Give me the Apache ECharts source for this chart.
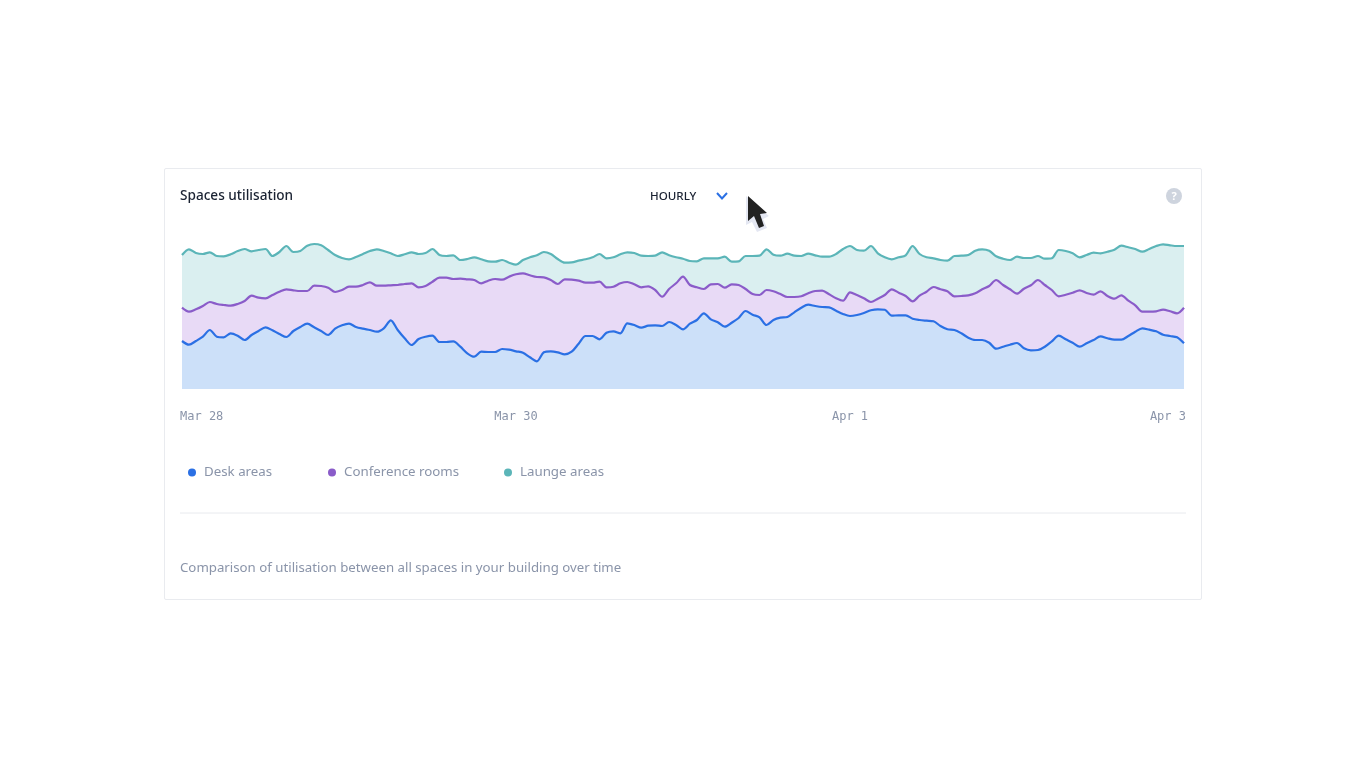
<!DOCTYPE html>
<html>
<head>
<meta charset="utf-8">
<title>Spaces utilisation</title>
<script src="https://cdn.jsdelivr.net/npm/echarts@6/dist/echarts.min.js"></script>
<style>
  html, body { margin: 0; padding: 0; background: #fff; overflow: hidden; }
  #card { position: absolute; left: 164px; top: 168px; width: 1036px; height: 430px; border: 1px solid #e9ebef; border-radius: 2px; }
  #chart { position: absolute; left: 0; top: 0; width: 1366px; height: 768px; }
</style>
</head>
<body>
<div id="card"></div>
<div id="chart"></div>
<script>
// hourly readings, Mar 28 00:00 to Apr 3 00:00 (145 points)
const deskAreas = [
  48, 44.3, 48, 52.3, 59, 52.3, 51.7, 55.7, 53.3, 49, 54, 58, 61.7, 58.7, 55, 52, 58, 62, 65.3, 61.7, 58, 54, 60.3, 63.7,
  65.3, 62, 60.3, 59, 57.3, 60.7, 68.7, 59, 50.7, 44, 50, 52.3, 53.3, 47, 47, 47.7, 42.3, 35.7, 32.3, 37.3, 37, 37, 40, 39.3,
  37.7, 36.3, 31.7, 27.7, 36.7, 37.7, 36.7, 34.7, 37.3, 45.3, 53, 53, 49.7, 56.3, 57.7, 55.7, 65.7, 64, 61.3, 63.3, 63.7, 63, 67, 64,
  59.7, 65.3, 69, 75.7, 69.7, 66.7, 62.3, 66.3, 71, 78, 74.3, 71.7, 64, 69, 71.3, 72, 76.7, 81.3, 84.3, 83, 82, 81.7, 78.3, 75,
  73, 74, 76, 78.7, 79.7, 79.3, 73.3, 73.7, 73.7, 70.3, 69, 68.3, 67.7, 63, 59.7, 59, 55.7, 51.3, 49, 49, 46.3, 40.3, 42.3, 44.3,
  46, 40.7, 38.7, 39, 42.3, 47.7, 53.3, 49.7, 46.3, 42.3, 45.7, 49, 52.7, 50.7, 49.3, 49.3, 53, 57.3, 60.7, 59.3, 57.7, 54.3, 53, 51.7,
  45.7
];
const conferenceRooms = [
  81.3, 77.3, 79.7, 83, 87, 85, 84, 83.3, 85, 88, 93.3, 91.3, 90.7, 94, 97.3, 99.7, 98.7, 98, 98, 103.3, 103, 101.3, 97, 99,
  102.3, 102.3, 104, 106.7, 103.3, 103.3, 103.7, 104, 105, 105.7, 101.7, 103, 107.3, 111.3, 111.3, 110, 110.3, 109.7, 109, 105.7, 108.3, 110, 109.3, 112.3,
  114.7, 115.7, 113.7, 112, 111.7, 109, 105, 109.7, 109.3, 108.3, 106.3, 106.3, 107.3, 101.7, 102.3, 105.7, 107, 104.7, 101.7, 102.7, 99, 92.3, 100, 105.7,
  112.3, 104, 101.7, 100, 104.7, 105, 101.3, 104.7, 104, 100, 95, 94, 99, 97.7, 95, 92, 92, 92.7, 95.7, 98, 98.3, 94.7, 90.7, 88.3,
  96.7, 94, 90.7, 87, 90.3, 94, 99.7, 96.3, 93, 87.7, 93.3, 97.3, 102, 99.7, 97.7, 92.7, 93, 93.7, 95.7, 99.7, 103, 109, 104, 99.7,
  95.3, 100.3, 103.7, 109, 104, 99, 92.7, 94.3, 96.3, 98.7, 96, 94.3, 97.7, 93, 90.3, 93.7, 88.3, 83.7, 77.3, 77.3, 77.7, 79.3, 77.7, 75.7,
  81.3
];
const laungeAreas = [
  134, 139.7, 136, 135, 136.7, 133, 132.7, 134.7, 138, 140, 137.7, 139, 140, 133, 137, 143, 137, 138, 143.3, 145, 143.7, 139, 134, 131,
  129.7, 132, 135, 138, 139.7, 138, 135.7, 133, 134.7, 136.7, 135, 136, 140, 134, 133, 133.7, 129, 130, 131.7, 129.7, 127.7, 127.3, 129, 126.3,
  124.3, 129, 131.7, 133.7, 137, 135, 130, 126.3, 126.7, 128.3, 129.7, 131.7, 135, 130.7, 131.7, 134.7, 136.7, 136, 133.3, 133, 133.3, 136.7, 133.7, 131.7,
  130.3, 128, 127.7, 130.7, 130.7, 130.7, 132.3, 127.3, 127.7, 133, 133, 133.3, 139.7, 134.3, 133.3, 135.3, 133.3, 133, 135.3, 133.7, 132.3, 132.3, 135, 140,
  143, 139, 138.3, 143, 135.7, 131.7, 129.7, 131.7, 133.7, 143, 135, 131.7, 130.7, 129, 128.3, 133, 133.3, 134, 138.3, 139.7, 138.3, 132.7, 130.3, 129,
  132.3, 131, 131, 133, 130.3, 130.7, 139, 138, 135.7, 131.7, 134, 136.3, 135.7, 137.3, 139.3, 143.3, 141.7, 140, 137.3, 140, 143, 144.7, 143.7, 143,
  143
];
const tickLabels = ['Mar 28', 'Mar 30', 'Apr 1', 'Apr 3'];
const hoursPerTick = 48;
const hours = deskAreas.map(function (v, i) { return i; });

const sansFont = '"Noto Sans", sans-serif';
const monoFont = '"DejaVu Sans Mono", monospace';

function areaSeries(name, data, line, fill, z) {
  return {
    name: name,
    type: 'line',
    data: data,
    z: z,
    smooth: 0.3,
    showSymbol: false,
    silent: true,
    lineStyle: { color: line, width: 2.2 },
    itemStyle: { color: line },
    areaStyle: { color: fill, opacity: 1 }
  };
}

function legendItem(name, left) {
  return {
    data: [name],
    left: left,
    top: 466,
    padding: 0,
    icon: 'circle',
    itemWidth: 8,
    itemHeight: 8,
    itemGap: 0,
    selectedMode: false,
    textStyle: { color: '#8a94a9', fontFamily: sansFont, fontSize: 13.3, padding: [0, 0, 0, 3] }
  };
}

const chart = echarts.init(document.getElementById('chart'));
chart.setOption({
  animation: false,
  backgroundColor: 'transparent',
  title: {
    text: 'Spaces utilisation',
    left: 180,
    top: 189,
    padding: 0,
    textStyle: { color: '#1a2232', fontFamily: sansFont, fontSize: 13.6, fontWeight: 500 }
  },
  legend: [
    legendItem('Desk areas', 188),
    legendItem('Conference rooms', 328),
    legendItem('Launge areas', 504)
  ],
  grid: { left: 182, right: 182, top: 229, bottom: 379 },
  xAxis: {
    type: 'category',
    boundaryGap: false,
    data: hours,
    axisLine: { show: false },
    axisTick: { show: false },
    splitLine: { show: false },
    axisLabel: {
      interval: function (i) { return i % hoursPerTick === 0; },
      formatter: function (v) { return tickLabels[v / hoursPerTick]; },
      alignMinLabel: 'left',
      alignMaxLabel: 'right',
      margin: 22,
      padding: [0, -2, 0, -2],
      color: '#8a94a9',
      fontFamily: monoFont,
      fontSize: 12
    }
  },
  yAxis: { type: 'value', min: 0, max: 160, show: false },
  series: [
    areaSeries('Desk areas', deskAreas, '#2b70e4', '#cce0f9', 4),
    areaSeries('Conference rooms', conferenceRooms, '#8a5cc9', '#e8daf6', 3),
    areaSeries('Launge areas', laungeAreas, '#5bb5b8', '#daeff0', 2)
  ],
  graphic: [
    { type: 'text', silent: true, x: 650, y: 197, style: { text: 'HOURLY', fill: '#1a2232', font: '500 11.6px ' + sansFont, textVerticalAlign: 'middle' } },
    { type: 'polyline', silent: true, shape: { points: [[717, 193], [722, 198.5], [727, 193]] }, style: { stroke: '#2b70e4', lineWidth: 2, fill: null } },
    { type: 'circle', silent: true, shape: { cx: 1174, cy: 196, r: 8 }, style: { fill: '#ced4de' } },
    { type: 'text', silent: true, x: 1174, y: 197, style: { text: '?', fill: '#fff', font: 'bold 11px ' + sansFont, textAlign: 'center', textVerticalAlign: 'middle' } },
    { type: 'line', silent: true, shape: { x1: 180, y1: 513, x2: 1186, y2: 513 }, style: { stroke: '#e8eaee', lineWidth: 1 } },
    { type: 'text', silent: true, x: 180, y: 568, style: { text: 'Comparison of utilisation between all spaces in your building over time', fill: '#8a94a9', font: '13.25px ' + sansFont, textVerticalAlign: 'middle' } },
    // mouse pointer caught in the screenshot
    { type: 'polygon', silent: true, z: 100, shape: { points: [[746, 196], [746, 225], [752, 222], [757, 232], [767, 228], [763, 219], [769, 216]] }, style: { fill: '#e4e7f2' } },
    { type: 'polygon', silent: true, z: 101, shape: { points: [[748, 196], [748, 221], [754, 216], [759, 228], [764, 226], [760, 214], [767, 213]] }, style: { fill: '#222' } }
  ]
});
</script>
</body>
</html>
